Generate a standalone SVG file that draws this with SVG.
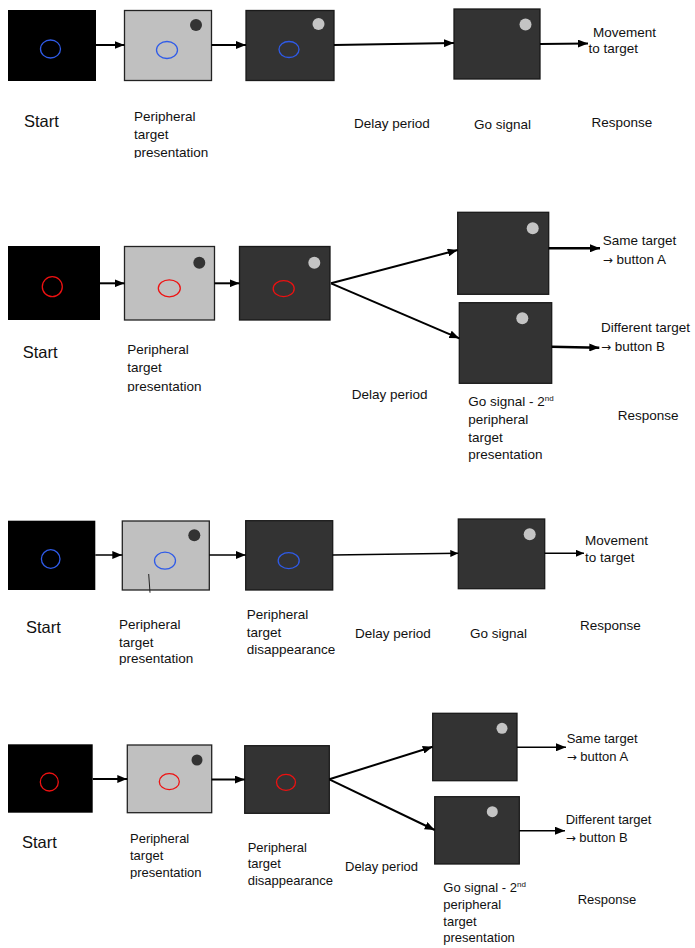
<svg xmlns="http://www.w3.org/2000/svg" width="695" height="948" viewBox="0 0 695 948">
  <style>
    text { font-family: "Liberation Sans", Arial, sans-serif; font-size: 13.5px; fill: #111; }
    .start { font-size: 16.5px; }
    .small { font-size: 13px; }
    .arr { font-family: "DejaVu Sans", sans-serif; font-size: 12px; }
    .black { fill: #000; }
    .light { fill: #c0c0c0; stroke: #222; stroke-width: 1.3; }
    .dark { fill: #333; stroke: #1a1a1a; stroke-width: 1.3; }
    .dotL { fill: #c4c4c4; }
    .dotD { fill: #333; }
    .fixB { fill: none; stroke: #2f5be8; stroke-width: 1.3; }
    .fixR { fill: none; stroke: #ee1111; stroke-width: 1.3; }
    .conn { fill: none; stroke: #000; stroke-width: 2; }
    .thin { stroke-width: 1.5; }
    .thick { stroke-width: 2.6; }
  </style>
  <defs>
    <marker id="head" viewBox="0 0 10 8" refX="10" refY="4" markerWidth="10" markerHeight="8" markerUnits="userSpaceOnUse" orient="auto">
      <path d="M0,0 L10,4 L0,8 Z" fill="#000"/>
    </marker>
    <marker id="headSm" viewBox="0 0 8 7" refX="8" refY="3.5" markerWidth="8" markerHeight="7" markerUnits="userSpaceOnUse" orient="auto">
      <path d="M0,0 L8,3.5 L0,7 Z" fill="#000"/>
    </marker>
    <clipPath id="c1" clipPathUnits="userSpaceOnUse"><rect x="0" y="0" width="695" height="158"/></clipPath>
    <clipPath id="c2" clipPathUnits="userSpaceOnUse"><rect x="0" y="0" width="695" height="392"/></clipPath>
    <clipPath id="c3" clipPathUnits="userSpaceOnUse"><rect x="0" y="0" width="695" height="463"/></clipPath>
    <clipPath id="c4" clipPathUnits="userSpaceOnUse"><rect x="0" y="0" width="695" height="665"/></clipPath>
    <clipPath id="c5" clipPathUnits="userSpaceOnUse"><rect x="0" y="0" width="695" height="879"/></clipPath>
    <clipPath id="c6" clipPathUnits="userSpaceOnUse"><rect x="0" y="0" width="695" height="888"/></clipPath>
    <clipPath id="c7" clipPathUnits="userSpaceOnUse"><rect x="0" y="0" width="695" height="945"/></clipPath>
  </defs>

  <!-- ===== Task 1 : blue fixation, memory-guided movement ===== -->
  <g id="t1-start">
    <rect class="black" x="8" y="10" width="88" height="71"/>
    <ellipse class="fixB" cx="50.5" cy="49" rx="10" ry="9"/>
  </g>
  <g id="t1-present">
    <rect class="light" x="124.5" y="10.5" width="87" height="70"/>
    <circle class="dotD" cx="196" cy="25" r="6"/>
    <ellipse class="fixB" cx="167" cy="50" rx="10.5" ry="8.5"/>
  </g>
  <g id="t1-delay">
    <rect class="dark" x="246" y="10.5" width="88" height="70"/>
    <circle class="dotL" cx="318.5" cy="24" r="6"/>
    <ellipse class="fixB" cx="289" cy="49.5" rx="10" ry="8"/>
  </g>
  <g id="t1-go">
    <rect class="dark" x="454" y="9" width="86" height="70"/>
    <circle class="dotL" cx="525.5" cy="24.5" r="6"/>
  </g>

  <!-- ===== Task 2 : red fixation, same/different target ===== -->
  <g id="t2-start">
    <rect class="black" x="8" y="246" width="92" height="74"/>
    <ellipse class="fixR" cx="52.3" cy="286.7" rx="10" ry="10"/>
  </g>
  <g id="t2-present">
    <rect class="light" x="124.5" y="246.5" width="90" height="73.5"/>
    <circle class="dotD" cx="199.3" cy="262.7" r="6"/>
    <ellipse class="fixR" cx="169.3" cy="288.3" rx="11" ry="8.5"/>
  </g>
  <g id="t2-delay">
    <rect class="dark" x="239.5" y="246.5" width="90.5" height="73.5"/>
    <circle class="dotL" cx="314.3" cy="262.7" r="6"/>
    <ellipse class="fixR" cx="283.7" cy="288.7" rx="10.5" ry="8"/>
  </g>
  <g id="t2-go-same">
    <rect class="dark" x="457.7" y="212.3" width="91" height="82"/>
    <circle class="dotL" cx="532.7" cy="228.3" r="6"/>
  </g>
  <g id="t2-go-diff">
    <rect class="dark" x="459.3" y="302.7" width="92.4" height="80.6"/>
    <circle class="dotL" cx="522.3" cy="318.3" r="6"/>
  </g>

  <!-- ===== Task 3 : blue fixation, target disappears ===== -->
  <g id="t3-start">
    <rect class="black" x="8" y="520.7" width="87.3" height="69.3"/>
    <ellipse class="fixB" cx="50.7" cy="559" rx="9.3" ry="9.3"/>
  </g>
  <g id="t3-present">
    <rect class="light" x="122.3" y="521" width="87" height="69"/>
    <circle class="dotD" cx="194.3" cy="535.3" r="6"/>
    <ellipse class="fixB" cx="165" cy="560.7" rx="10.5" ry="8.5"/>
    <line x1="148.7" y1="574" x2="150" y2="592.7" stroke="#222" stroke-width="1"/>
  </g>
  <g id="t3-disappear">
    <rect class="dark" x="245.7" y="520.7" width="87" height="69.3"/>
    <ellipse class="fixB" cx="288.7" cy="560.7" rx="10.5" ry="8"/>
  </g>
  <g id="t3-go">
    <rect class="dark" x="458.3" y="519" width="86.4" height="69.7"/>
    <circle class="dotL" cx="529.7" cy="534.3" r="6"/>
  </g>

  <!-- ===== Task 4 : red fixation, target disappears, same/different ===== -->
  <g id="t4-start">
    <rect class="black" x="8" y="744.3" width="84.7" height="68.4"/>
    <ellipse class="fixR" cx="49.3" cy="782" rx="9" ry="9"/>
  </g>
  <g id="t4-present">
    <rect class="light" x="127.3" y="745" width="84.4" height="67.7"/>
    <circle class="dotD" cx="197" cy="760" r="5.5"/>
    <ellipse class="fixR" cx="169.3" cy="781.7" rx="10" ry="8"/>
  </g>
  <g id="t4-disappear">
    <rect class="dark" x="244.7" y="745.7" width="84.6" height="67.6"/>
    <ellipse class="fixR" cx="286" cy="782.3" rx="9.5" ry="8"/>
  </g>
  <g id="t4-go-same">
    <rect class="dark" x="432.7" y="713.3" width="84.3" height="67.4"/>
    <circle class="dotL" cx="502" cy="728.3" r="5.5"/>
  </g>
  <g id="t4-go-diff">
    <rect class="dark" x="434.7" y="796.7" width="84.6" height="67.3"/>
    <circle class="dotL" cx="492.3" cy="811.7" r="5.5"/>
  </g>

  <!-- ===== Connectors ===== -->
  <g id="connectors">
    <path class="conn" d="M96,45 H124.5" marker-end="url(#head)"/>
    <path class="conn" d="M211.5,45 H246" marker-end="url(#head)"/>
    <path class="conn" d="M334,45 L454,43" marker-end="url(#head)"/>
    <path class="conn" d="M540,44 L588,43.5" marker-end="url(#head)"/>

    <path class="conn" d="M100,283.3 H124.5" marker-end="url(#head)"/>
    <path class="conn" d="M214.5,283.3 H239.5" marker-end="url(#head)"/>
    <path class="conn" d="M331,283.3 L457.7,250" marker-end="url(#head)"/>
    <path class="conn" d="M331,283.3 L459.3,338.3" marker-end="url(#head)"/>
    <path class="conn thick" d="M548.7,248.3 H600" marker-end="url(#head)"/>
    <path class="conn thick" d="M551.7,346.7 L599.3,347.7" marker-end="url(#head)"/>

    <path class="conn thin" d="M95.3,555 H122.3" marker-end="url(#head)"/>
    <path class="conn thin" d="M209.3,555 H245.7" marker-end="url(#head)"/>
    <path class="conn thin" d="M332.7,555 L458.3,553.3" marker-end="url(#headSm)"/>
    <path class="conn thin" d="M544.7,553.3 H584" marker-end="url(#headSm)"/>

    <path class="conn" d="M92.7,779 H127.3" marker-end="url(#head)"/>
    <path class="conn" d="M211.7,779.5 H244.7" marker-end="url(#head)"/>
    <path class="conn" d="M329.3,779.3 L432.7,746.7" marker-end="url(#head)"/>
    <path class="conn" d="M329.3,779.3 L434.7,830" marker-end="url(#head)"/>
    <path class="conn thin" d="M517,747.3 H566" marker-end="url(#head)"/>
    <path class="conn thin" d="M519.3,830.7 H565" marker-end="url(#head)"/>
  </g>

  <!-- ===== Labels ===== -->
  <g id="labels-1">
    <text class="start" x="24" y="126.5">Start</text>
    <text x="134" y="120.5">Peripheral</text>
    <text x="134" y="138.5">target</text>
    <text x="134" y="156.5" clip-path="url(#c1)">presentation</text>
    <text x="354" y="127.5">Delay period</text>
    <text x="474" y="128.5">Go signal</text>
    <text x="593" y="36.5">Movement</text>
    <text x="588.5" y="53">to target</text>
    <text x="591.5" y="126.5">Response</text>
  </g>
  <g id="labels-2">
    <text class="start" x="22.7" y="358.3">Start</text>
    <text x="127.3" y="354">Peripheral</text>
    <text x="127.3" y="372.3">target</text>
    <text x="127.3" y="390.5" clip-path="url(#c2)">presentation</text>
    <text x="351.7" y="399.3">Delay period</text>
    <text x="468.3" y="405.7">Go signal - 2<tspan font-size="8" dy="-5">nd</tspan></text>
    <text x="468.3" y="424">peripheral</text>
    <text x="468.3" y="442.3">target</text>
    <text x="468.3" y="459.3" clip-path="url(#c3)">presentation</text>
    <text x="617.7" y="420">Response</text>
    <text x="602.7" y="245">Same target</text>
    <text x="602.7" y="264.3"><tspan class="arr">→</tspan> button A</text>
    <text x="601" y="331.7">Different target</text>
    <text x="601" y="350.7"><tspan class="arr">→</tspan> button B</text>
  </g>
  <g id="labels-3">
    <text class="start" x="26" y="633.3">Start</text>
    <text x="119" y="629.3">Peripheral</text>
    <text x="119" y="646.7">target</text>
    <text x="119" y="663.3" clip-path="url(#c4)">presentation</text>
    <text x="246.7" y="619">Peripheral</text>
    <text x="246.7" y="636.7">target</text>
    <text x="246.7" y="654">disappearance</text>
    <text x="355" y="637.7">Delay period</text>
    <text x="470" y="638.3">Go signal</text>
    <text x="585" y="545">Movement</text>
    <text x="585" y="561.7">to target</text>
    <text x="580" y="630">Response</text>
  </g>
  <g id="labels-4">
    <text class="start" x="22" y="848.3" font-size="16">Start</text>
    <text class="small" x="130" y="842.7">Peripheral</text>
    <text class="small" x="130" y="860">target</text>
    <text class="small" x="130" y="876.7" clip-path="url(#c5)">presentation</text>
    <text class="small" x="247.7" y="851.7">Peripheral</text>
    <text class="small" x="247.7" y="868.3">target</text>
    <text class="small" x="247.7" y="885" clip-path="url(#c6)">disappearance</text>
    <text class="small" x="345" y="871">Delay period</text>
    <text class="small" x="443.3" y="892.3">Go signal - 2<tspan font-size="8" dy="-5">nd</tspan></text>
    <text class="small" x="443.3" y="909">peripheral</text>
    <text class="small" x="443.3" y="925.7">target</text>
    <text class="small" x="443.3" y="942.3" clip-path="url(#c7)">presentation</text>
    <text class="small" x="577.7" y="904">Response</text>
    <text class="small" x="566.7" y="742.7">Same target</text>
    <text class="small" x="566.7" y="760.7"><tspan class="arr">→</tspan> button A</text>
    <text class="small" x="565.7" y="824">Different target</text>
    <text class="small" x="565.7" y="841.7"><tspan class="arr">→</tspan> button B</text>
  </g>
</svg>
